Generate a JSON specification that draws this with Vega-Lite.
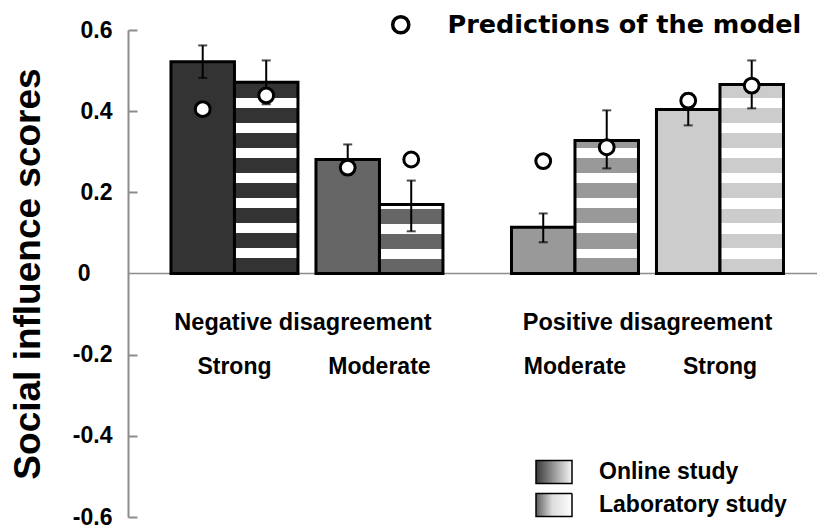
{
  "$schema": "https://vega.github.io/schema/vega-lite/v6.json",
  "background": "white",
  "padding": {"left": 9, "top": 12, "right": 0, "bottom": 0},
  "spacing": 0,
  "bounds": "flush",
  "config": {
    "view": {"stroke": null},
    "font": "Liberation Sans"
  },
  "datasets": {
    "scores": [
      {"disagreement": "Negative", "level": "Strong", "condition": "Negative strong", "study": "Online study", "score": 0.522, "lo": 0.482, "hi": 0.562, "prediction": 0.405},
      {"disagreement": "Negative", "level": "Strong", "condition": "Negative strong", "study": "Laboratory study", "score": 0.471, "lo": 0.417, "hi": 0.525, "prediction": 0.439},
      {"disagreement": "Negative", "level": "Moderate", "condition": "Negative moderate", "study": "Online study", "score": 0.281, "lo": 0.244, "hi": 0.318, "prediction": 0.261},
      {"disagreement": "Negative", "level": "Moderate", "condition": "Negative moderate", "study": "Laboratory study", "score": 0.17, "lo": 0.104, "hi": 0.229, "prediction": 0.281},
      {"disagreement": "Positive", "level": "Moderate", "condition": "Positive moderate", "study": "Online study", "score": 0.114, "lo": 0.077, "hi": 0.148, "prediction": 0.277},
      {"disagreement": "Positive", "level": "Moderate", "condition": "Positive moderate", "study": "Laboratory study", "score": 0.328, "lo": 0.259, "hi": 0.402, "prediction": 0.311},
      {"disagreement": "Positive", "level": "Strong", "condition": "Positive strong", "study": "Online study", "score": 0.404, "lo": 0.365, "hi": 0.444, "prediction": 0.426},
      {"disagreement": "Positive", "level": "Strong", "condition": "Positive strong", "study": "Laboratory study", "score": 0.466, "lo": 0.407, "hi": 0.525, "prediction": 0.463}
    ]
  },
  "hconcat": [
    {
      "width": 349,
      "height": 487,
      "data": {"name": "scores"},
      "transform": [{"filter": "datum.disagreement === 'Negative'"}],
      "resolve": {"axis": {"y": "independent"}},
      "layer": [
        {
          "transform": [{"aggregate": [{"op": "count", "as": "n"}]}],
          "mark": {"type": "rule", "color": "#8c8c8c", "strokeWidth": 1.5},
          "encoding": {
            "y": {
              "datum": 0, "type": "quantitative",
              "scale": {"domain": [-0.6, 0.6], "nice": false, "zero": false},
              "axis": {
                "orient": "left", "values": [0], "labelExpr": "'0'", "domain": false, "ticks": false, "tickSize": 0, "grid": false,
                "labelFont": "Liberation Sans", "labelFontWeight": "bold", "labelFontSize": 23, "labelColor": "black",
                "labelPadding": 38, "title": null
              }
            }
          }
        },
        {
          "transform": [{"filter": "datum.study === 'Online study'"}],
          "mark": {"type": "bar", "stroke": "black", "strokeWidth": 3, "strokeJoin": "miter"},
          "encoding": {
            "x": {
              "field": "level", "type": "nominal", "sort": ["Strong", "Moderate"],
              "scale": {"domain": ["Strong", "Moderate"], "paddingInner": 0.1241, "paddingOuter": 0.2655, "align": 0.558},
              "axis": {
                "orient": "top", "offset": -343, "domain": false, "ticks": false, "tickSize": 0,
                "labelPadding": 0, "labelBaseline": "alphabetic", "labelAngle": 0,
                "labelFont": "Liberation Sans", "labelFontWeight": "bold", "labelFontSize": 23, "labelColor": "black",
                "title": "Negative disagreement", "titleFont": "Liberation Sans", "titleFontWeight": "bold",
                "titleFontSize": 23.5, "titleColor": "black", "titleY": -44, "titleBaseline": "alphabetic"
              }
            },
            "xOffset": {"field": "study", "type": "nominal", "scale": {"domain": ["Online study", "Laboratory study"], "paddingInner": 0, "paddingOuter": 0}},
            "y": {
              "field": "score", "type": "quantitative",
              "scale": {"domain": [-0.6, 0.6], "nice": false, "zero": false},
              "axis": {
                "orient": "left",
                "values": [-0.6, -0.4, -0.2, 0.2, 0.4, 0.6],
                "labelExpr": "(datum.value < 0 ? '-' : '') + format(abs(datum.value), '.1f')",
                "grid": false, "domainColor": "#8c8c8c", "domainWidth": 2, "tickColor": "#8c8c8c", "tickWidth": 2, "tickSize": -9,
                "labelFont": "Liberation Sans", "labelFontWeight": "bold", "labelFontSize": 23, "labelColor": "black", "labelPadding": 25,
                "title": "Social influence scores", "titleFont": "Liberation Sans", "titleFontWeight": "bold", "titleFontSize": 37,
                "titleColor": "black", "titlePadding": 25
              }
            },
            "fill": {
              "field": "condition", "type": "nominal",
              "scale": {"domain": ["Negative strong", "Negative moderate", "Positive moderate", "Positive strong"], "range": ["#333333", "#666666", "#999999", "#cccccc"]},
              "legend": null
            }
          }
        },
        {
          "transform": [{"filter": "datum.condition === 'Negative strong' && datum.study === 'Laboratory study'"}],
          "mark": {
            "type": "bar", "stroke": "black", "strokeWidth": 3, "strokeJoin": "miter",
            "fill": {"gradient": "linear", "x1": 0, "y1": 1, "x2": 0, "y2": 0, "stops": [
              {"offset": 0, "color": "#333333"},
              {"offset": 0.0785, "color": "#333333"}, {"offset": 0.0785, "color": "#ffffff"}, {"offset": 0.1308, "color": "#ffffff"}, {"offset": 0.1308, "color": "#333333"},
              {"offset": 0.2093, "color": "#333333"}, {"offset": 0.2093, "color": "#ffffff"}, {"offset": 0.2616, "color": "#ffffff"}, {"offset": 0.2616, "color": "#333333"},
              {"offset": 0.3401, "color": "#333333"}, {"offset": 0.3401, "color": "#ffffff"}, {"offset": 0.3925, "color": "#ffffff"}, {"offset": 0.3925, "color": "#333333"},
              {"offset": 0.4710, "color": "#333333"}, {"offset": 0.4710, "color": "#ffffff"}, {"offset": 0.5233, "color": "#ffffff"}, {"offset": 0.5233, "color": "#333333"},
              {"offset": 0.6018, "color": "#333333"}, {"offset": 0.6018, "color": "#ffffff"}, {"offset": 0.6541, "color": "#ffffff"}, {"offset": 0.6541, "color": "#333333"},
              {"offset": 0.7326, "color": "#333333"}, {"offset": 0.7326, "color": "#ffffff"}, {"offset": 0.7849, "color": "#ffffff"}, {"offset": 0.7849, "color": "#333333"},
              {"offset": 0.8634, "color": "#333333"}, {"offset": 0.8634, "color": "#ffffff"}, {"offset": 0.9158, "color": "#ffffff"}, {"offset": 0.9158, "color": "#333333"},
              {"offset": 1, "color": "#333333"}
            ]}
          },
          "encoding": {
            "x": {"field": "level", "type": "nominal"},
            "xOffset": {"field": "study", "type": "nominal"},
            "y": {"field": "score", "type": "quantitative", "axis": null}
          }
        },
        {
          "transform": [{"filter": "datum.condition === 'Negative moderate' && datum.study === 'Laboratory study'"}],
          "mark": {
            "type": "bar", "stroke": "black", "strokeWidth": 3, "strokeJoin": "miter",
            "fill": {"gradient": "linear", "x1": 0, "y1": 1, "x2": 0, "y2": 0, "stops": [
              {"offset": 0, "color": "#666666"},
              {"offset": 0.2174, "color": "#666666"}, {"offset": 0.2174, "color": "#ffffff"}, {"offset": 0.3623, "color": "#ffffff"}, {"offset": 0.3623, "color": "#666666"},
              {"offset": 0.5797, "color": "#666666"}, {"offset": 0.5797, "color": "#ffffff"}, {"offset": 0.7246, "color": "#ffffff"}, {"offset": 0.7246, "color": "#666666"},
              {"offset": 0.9420, "color": "#666666"}, {"offset": 0.9420, "color": "#ffffff"}, {"offset": 1, "color": "#ffffff"}
            ]}
          },
          "encoding": {
            "x": {"field": "level", "type": "nominal"},
            "xOffset": {"field": "study", "type": "nominal"},
            "y": {"field": "score", "type": "quantitative", "axis": null}
          }
        },
        {
          "transform": [{"filter": "datum.study === 'Online study'"}],
          "mark": {
            "type": "bar", "opacity": 0, "stroke": "black", "strokeWidth": 2,
            "fill": {"gradient": "linear", "x1": 0, "y1": 0, "x2": 1, "y2": 0, "stops": [{"offset": 0, "color": "#3a3a3a"}, {"offset": 1, "color": "#f6f6f6"}]}
          },
          "encoding": {
            "x": {"field": "level", "type": "nominal"},
            "xOffset": {"field": "study", "type": "nominal"},
            "y": {"field": "score", "type": "quantitative", "axis": null},
            "stroke": {
              "field": "study", "type": "nominal",
              "scale": {"domain": ["Online study"], "range": ["black"]},
              "legend": {
                "orient": "none", "legendX": 407, "legendY": 423, "title": null,
                "symbolType": "M-1,-0.64L1,-0.64L1,0.64L-1,0.64Z", "symbolSize": 1296, "symbolOpacity": 1,
                "labelFont": "Liberation Sans", "labelFontWeight": "bold", "labelFontSize": 23, "labelColor": "black",
                "labelOffset": 26, "labelLimit": 0
              }
            }
          }
        },
        {
          "transform": [{"filter": "datum.study === 'Laboratory study'"}],
          "mark": {
            "type": "bar", "opacity": 0, "stroke": "black", "strokeWidth": 2,
            "fill": {"gradient": "linear", "x1": 0, "y1": 0, "x2": 1, "y2": 0, "stops": [{"offset": 0, "color": "#5e5e5e"}, {"offset": 0.45, "color": "#dcdcdc"}, {"offset": 1, "color": "#ffffff"}]}
          },
          "encoding": {
            "x": {"field": "level", "type": "nominal"},
            "xOffset": {"field": "study", "type": "nominal"},
            "y": {"field": "score", "type": "quantitative", "axis": null},
            "strokeDash": {
              "field": "study", "type": "nominal",
              "scale": {"domain": ["Laboratory study"], "range": [[1, 0]]},
              "legend": {
                "orient": "none", "legendX": 407, "legendY": 456, "title": null,
                "symbolType": "M-1,-0.64L1,-0.64L1,0.64L-1,0.64Z", "symbolSize": 1296, "symbolOpacity": 1,
                "labelFont": "Liberation Sans", "labelFontWeight": "bold", "labelFontSize": 23, "labelColor": "black",
                "labelOffset": 26, "labelLimit": 0
              }
            }
          }
        },
        {
          "mark": {"type": "rule", "color": "black", "strokeWidth": 2},
          "encoding": {
            "x": {"field": "level", "type": "nominal"},
            "xOffset": {"field": "study", "type": "nominal"},
            "y": {"field": "lo", "type": "quantitative", "axis": null},
            "y2": {"field": "hi"}
          }
        },
        {
          "mark": {"type": "tick", "color": "black", "thickness": 2, "size": 9, "orient": "horizontal"},
          "encoding": {
            "x": {"field": "level", "type": "nominal"},
            "xOffset": {"field": "study", "type": "nominal"},
            "y": {"field": "hi", "type": "quantitative", "axis": null}
          }
        },
        {
          "mark": {"type": "tick", "color": "black", "thickness": 2, "size": 9, "orient": "horizontal"},
          "encoding": {
            "x": {"field": "level", "type": "nominal"},
            "xOffset": {"field": "study", "type": "nominal"},
            "y": {"field": "lo", "type": "quantitative", "axis": null}
          }
        },
        {
          "mark": {"type": "point", "filled": true, "fill": "white", "stroke": "black", "strokeWidth": 3, "size": 220, "opacity": 1},
          "encoding": {
            "x": {"field": "level", "type": "nominal"},
            "xOffset": {"field": "study", "type": "nominal"},
            "y": {"field": "prediction", "type": "quantitative", "axis": null},
            "shape": {
              "datum": "Predictions of the model", "type": "nominal",
              "legend": {
                "orient": "none", "legendX": 260, "legendY": -18, "title": null,
                "symbolSize": 260, "symbolStrokeWidth": 3.5,
                "labelFont": "DejaVu Sans", "labelFontWeight": "bold", "labelFontSize": 25.5, "labelColor": "black",
                "labelOffset": 34, "labelLimit": 0
              }
            }
          }
        }
      ]
    },
    {
      "width": 340,
      "height": 487,
      "data": {"name": "scores"},
      "transform": [{"filter": "datum.disagreement === 'Positive'"}],
      "layer": [
        {
          "transform": [{"aggregate": [{"op": "count", "as": "n"}]}],
          "mark": {"type": "rule", "color": "#8c8c8c", "strokeWidth": 1.5},
          "encoding": {"y": {"datum": 0, "type": "quantitative", "scale": {"domain": [-0.6, 0.6], "nice": false, "zero": false}, "axis": null}}
        },
        {
          "transform": [{"filter": "datum.study === 'Online study'"}],
          "mark": {"type": "bar", "stroke": "black", "strokeWidth": 3, "strokeJoin": "miter"},
          "encoding": {
            "x": {
              "field": "level", "type": "nominal", "sort": ["Moderate", "Strong"],
              "scale": {"domain": ["Moderate", "Strong"], "paddingInner": 0.1241, "paddingOuter": 0.2345, "align": 0.507},
              "axis": {
                "orient": "top", "offset": -343, "domain": false, "ticks": false, "tickSize": 0,
                "labelPadding": 0, "labelBaseline": "alphabetic", "labelAngle": 0,
                "labelFont": "Liberation Sans", "labelFontWeight": "bold", "labelFontSize": 23, "labelColor": "black",
                "title": "Positive disagreement", "titleFont": "Liberation Sans", "titleFontWeight": "bold",
                "titleFontSize": 23.5, "titleColor": "black", "titleY": -44, "titleBaseline": "alphabetic"
              }
            },
            "xOffset": {"field": "study", "type": "nominal", "scale": {"domain": ["Online study", "Laboratory study"], "paddingInner": 0, "paddingOuter": 0}},
            "y": {"field": "score", "type": "quantitative", "scale": {"domain": [-0.6, 0.6], "nice": false, "zero": false}, "axis": null},
            "fill": {"field": "condition", "type": "nominal"}
          }
        },
        {
          "transform": [{"filter": "datum.condition === 'Positive moderate' && datum.study === 'Laboratory study'"}],
          "mark": {
            "type": "bar", "stroke": "black", "strokeWidth": 3, "strokeJoin": "miter",
            "fill": {"gradient": "linear", "x1": 0, "y1": 1, "x2": 0, "y2": 0, "stops": [
              {"offset": 0, "color": "#999999"},
              {"offset": 0.1127, "color": "#999999"}, {"offset": 0.1127, "color": "#ffffff"}, {"offset": 0.1878, "color": "#ffffff"}, {"offset": 0.1878, "color": "#999999"},
              {"offset": 0.3005, "color": "#999999"}, {"offset": 0.3005, "color": "#ffffff"}, {"offset": 0.3757, "color": "#ffffff"}, {"offset": 0.3757, "color": "#999999"},
              {"offset": 0.4884, "color": "#999999"}, {"offset": 0.4884, "color": "#ffffff"}, {"offset": 0.5635, "color": "#ffffff"}, {"offset": 0.5635, "color": "#999999"},
              {"offset": 0.6762, "color": "#999999"}, {"offset": 0.6762, "color": "#ffffff"}, {"offset": 0.7513, "color": "#ffffff"}, {"offset": 0.7513, "color": "#999999"},
              {"offset": 0.8640, "color": "#999999"}, {"offset": 0.8640, "color": "#ffffff"}, {"offset": 0.9391, "color": "#ffffff"}, {"offset": 0.9391, "color": "#999999"},
              {"offset": 1, "color": "#999999"}
            ]}
          },
          "encoding": {
            "x": {"field": "level", "type": "nominal"},
            "xOffset": {"field": "study", "type": "nominal"},
            "y": {"field": "score", "type": "quantitative", "axis": null}
          }
        },
        {
          "transform": [{"filter": "datum.condition === 'Positive strong' && datum.study === 'Laboratory study'"}],
          "mark": {
            "type": "bar", "stroke": "black", "strokeWidth": 3, "strokeJoin": "miter",
            "fill": {"gradient": "linear", "x1": 0, "y1": 1, "x2": 0, "y2": 0, "stops": [
              {"offset": 0, "color": "#cccccc"},
              {"offset": 0.0793, "color": "#cccccc"}, {"offset": 0.0793, "color": "#ffffff"}, {"offset": 0.1322, "color": "#ffffff"}, {"offset": 0.1322, "color": "#cccccc"},
              {"offset": 0.2115, "color": "#cccccc"}, {"offset": 0.2115, "color": "#ffffff"}, {"offset": 0.2644, "color": "#ffffff"}, {"offset": 0.2644, "color": "#cccccc"},
              {"offset": 0.3437, "color": "#cccccc"}, {"offset": 0.3437, "color": "#ffffff"}, {"offset": 0.3966, "color": "#ffffff"}, {"offset": 0.3966, "color": "#cccccc"},
              {"offset": 0.4759, "color": "#cccccc"}, {"offset": 0.4759, "color": "#ffffff"}, {"offset": 0.5288, "color": "#ffffff"}, {"offset": 0.5288, "color": "#cccccc"},
              {"offset": 0.6081, "color": "#cccccc"}, {"offset": 0.6081, "color": "#ffffff"}, {"offset": 0.6610, "color": "#ffffff"}, {"offset": 0.6610, "color": "#cccccc"},
              {"offset": 0.7404, "color": "#cccccc"}, {"offset": 0.7404, "color": "#ffffff"}, {"offset": 0.7932, "color": "#ffffff"}, {"offset": 0.7932, "color": "#cccccc"},
              {"offset": 0.8726, "color": "#cccccc"}, {"offset": 0.8726, "color": "#ffffff"}, {"offset": 0.9254, "color": "#ffffff"}, {"offset": 0.9254, "color": "#cccccc"},
              {"offset": 1, "color": "#cccccc"}
            ]}
          },
          "encoding": {
            "x": {"field": "level", "type": "nominal"},
            "xOffset": {"field": "study", "type": "nominal"},
            "y": {"field": "score", "type": "quantitative", "axis": null}
          }
        },
        {
          "mark": {"type": "rule", "color": "black", "strokeWidth": 2},
          "encoding": {
            "x": {"field": "level", "type": "nominal"},
            "xOffset": {"field": "study", "type": "nominal"},
            "y": {"field": "lo", "type": "quantitative", "axis": null},
            "y2": {"field": "hi"}
          }
        },
        {
          "mark": {"type": "tick", "color": "black", "thickness": 2, "size": 9, "orient": "horizontal"},
          "encoding": {
            "x": {"field": "level", "type": "nominal"},
            "xOffset": {"field": "study", "type": "nominal"},
            "y": {"field": "hi", "type": "quantitative", "axis": null}
          }
        },
        {
          "mark": {"type": "tick", "color": "black", "thickness": 2, "size": 9, "orient": "horizontal"},
          "encoding": {
            "x": {"field": "level", "type": "nominal"},
            "xOffset": {"field": "study", "type": "nominal"},
            "y": {"field": "lo", "type": "quantitative", "axis": null}
          }
        },
        {
          "mark": {"type": "point", "shape": "circle", "filled": true, "fill": "white", "stroke": "black", "strokeWidth": 3, "size": 220, "opacity": 1},
          "encoding": {
            "x": {"field": "level", "type": "nominal"},
            "xOffset": {"field": "study", "type": "nominal"},
            "y": {"field": "prediction", "type": "quantitative", "axis": null}
          }
        }
      ]
    }
  ]
}
